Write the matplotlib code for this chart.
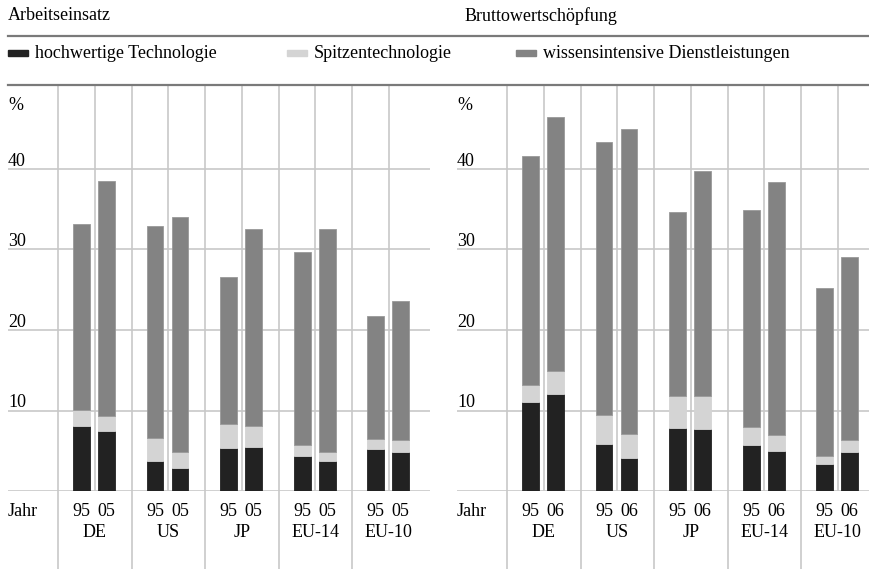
import matplotlib
matplotlib.use("Agg")
import matplotlib.pyplot as plt
from matplotlib.lines import Line2D
from matplotlib.patches import Rectangle

# data (percent)
countries = ["DE", "US", "JP", "EU-14", "EU-10"]
years_left = ["95", "05"]
years_right = ["95", "06"]
series = ["hochwertige Technologie", "Spitzentechnologie",
          "wissensintensive Dienstleistungen"]

# Arbeitseinsatz: segment heights per country (first year, second year)
left_hoch = [[8.1, 7.4], [3.7, 2.8], [5.4, 5.5], [4.4, 3.7], [5.2, 4.9]]
left_spitze = [[2.0, 1.9], [2.9, 2.1], [2.9, 2.6], [1.35, 1.2], [1.3, 1.4]]
left_wissen = [[23.1, 29.25], [26.3, 29.1], [18.3, 24.4], [23.95, 27.7],
               [15.3, 17.3]]

# Bruttowertschoepfung
right_hoch = [[11.0, 12.0], [5.8, 4.1], [7.8, 7.7], [5.75, 4.95], [3.4, 4.9]]
right_spitze = [[2.15, 2.95], [3.6, 2.95], [4.05, 4.05], [2.2, 2.05],
                [0.9, 1.4]]
right_wissen = [[28.45, 31.55], [33.9, 37.9], [22.75, 28.0], [26.95, 31.35],
                [20.95, 22.8]]

colors = ["#222222", "#d4d4d4", "#838383"]
edges = ["#222222", "#d4d4d4", "#999999"]
grid_col = "#c8c8c8"
top_col = "#7a7a7a"
FONT = "Liberation Serif"
FS = 13

W, H = 869, 569
fig = plt.figure(figsize=(W / 100, H / 100), dpi=100)
plt.rcParams['font.family'] = [FONT, 'DejaVu Serif']


def fx(px):
    return px / W


def fy(py):
    return 1 - py / H


ax_top, ax_bot = 85, 491
YMAX = (ax_bot - ax_top) / 8.05
XMIN, XMAX = -0.68, 5.06


def draw_panel(left_px, hoch, spitze, wissen, years):
    width_px = 422
    ax = fig.add_axes([fx(left_px), fy(ax_bot), fx(width_px),
                       (ax_bot - ax_top) / H])
    ax.set_xlim(XMIN, XMAX)
    ax.set_ylim(0, YMAX)
    ax.axis("off")
    ax.patch.set_visible(False)
    xt = ax.get_xaxis_transform()
    yt = ax.get_yaxis_transform()

    # horizontal grid
    for v in [0, 10, 20, 30, 40]:
        ax.plot([0, 1], [v, v], transform=yt, color=grid_col, lw=1.2,
                zorder=1)
        if v > 0:
            ax.text(0, v + 0.4, str(v), transform=yt, ha="left",
                    va="baseline", fontsize=FS)
    ax.text(0, 47.3, "%", transform=yt, ha="left", va="baseline",
            fontsize=FS)

    bottom_ext = (ax_bot - H) / (ax_bot - ax_top)
    for i in range(len(countries)):
        ax.plot([i, i], [bottom_ext, 1], transform=xt, color=grid_col,
                lw=1.2, clip_on=False, zorder=1)
        ax.plot([i + 0.5, i + 0.5], [0, 1], transform=xt, color=grid_col,
                lw=1.2, zorder=1)

    offsets = [0.32, 0.66]
    for i in range(len(countries)):
        for j in range(2):
            x = i + offsets[j]
            b = 0
            for k, seg in enumerate([hoch, spitze, wissen]):
                ax.bar(x, seg[i][j], bottom=b, width=0.23, color=colors[k],
                       edgecolor=edges[k], lw=0.6, zorder=3)
                b += seg[i][j]
            ax.text(x, -25 / (ax_bot - ax_top), years[j], transform=xt,
                    ha="center", va="baseline", fontsize=FS)
        ax.text(i + 0.5, -46 / (ax_bot - ax_top), countries[i],
                transform=xt, ha="center", va="baseline", fontsize=FS)
    ax.text(XMIN + 0.0, -25 / (ax_bot - ax_top), "Jahr", transform=xt,
            ha="left", va="baseline", fontsize=FS)
    return ax


draw_panel(8, left_hoch, left_spitze, left_wissen, years_left)
draw_panel(457, right_hoch, right_spitze, right_wissen, years_right)

# header lines
for py in [36, 85]:
    fig.add_artist(Line2D([fx(8), 1], [fy(py), fy(py)], color=top_col,
                          lw=1.6))

fig.text(fx(8), fy(16), "Arbeitseinsatz", ha="left", va="center",
         fontsize=FS)
fig.text(fx(465), fy(16), "Bruttowertschöpfung", ha="left", va="center",
         fontsize=FS)

# legend
leg_x = [8, 287, 516]
for k, name in enumerate(series):
    fig.add_artist(Rectangle((fx(leg_x[k]), fy(56)), fx(20), 6 / H,
                             transform=fig.transFigure, color=colors[k]))
    fig.text(fx(leg_x[k] + 27), fy(53), name, ha="left", va="center",
             fontsize=FS)

fig.savefig("out.png", dpi=100)
